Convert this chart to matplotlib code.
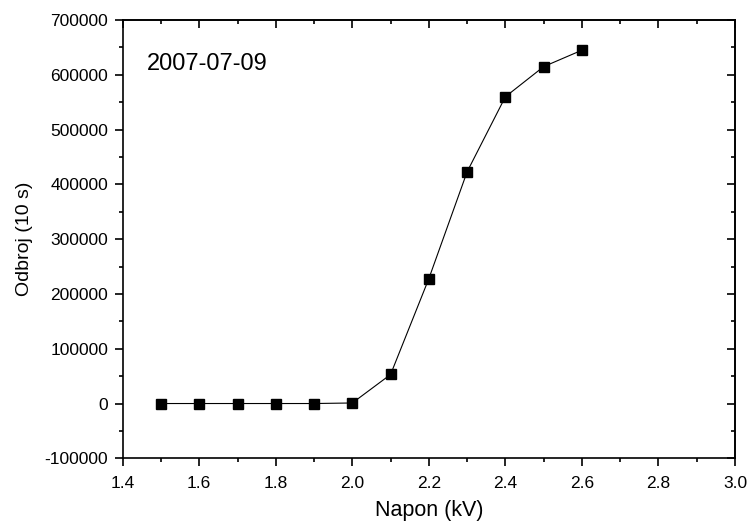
import numpy as np
import matplotlib
matplotlib.use("Agg")
import matplotlib.pyplot as plt
from matplotlib.ticker import MultipleLocator, FormatStrFormatter

plt.rcParams["font.family"] = ["Liberation Sans", "DejaVu Sans"]

# Podaci
napon = [1.5, 1.6, 1.7, 1.8, 1.9, 2.0, 2.1, 2.2, 2.3, 2.4, 2.5, 2.6]
odbroj = [0, 0, 0, 0, 0, 1000, 53000, 228000, 423000, 560000, 615000, 645000]

fig = plt.figure(figsize=(7.5, 5.28), dpi=100)
ax = fig.add_axes([0.1636, 0.132, 0.8164, 0.830])

ax.plot(napon, odbroj, color="black", linewidth=0.8, marker="s",
        markersize=6.5, markerfacecolor="black", markeredgecolor="black")

ax.set_xlim(1.4, 3.0)
ax.set_ylim(-100000, 700000)
ax.xaxis.set_major_locator(MultipleLocator(0.2))
ax.xaxis.set_minor_locator(MultipleLocator(0.1))
ax.yaxis.set_major_locator(MultipleLocator(100000))
ax.yaxis.set_minor_locator(MultipleLocator(50000))
ax.xaxis.set_major_formatter(FormatStrFormatter("%.1f"))
ax.yaxis.set_major_formatter(FormatStrFormatter("%d"))

for s in ax.spines.values():
    s.set_linewidth(1.2)

ax.tick_params(which="both", direction="out", top=False, right=False,
               labelsize=12.5, width=1.2)
ax.tick_params(axis="x", pad=7)
ax.tick_params(axis="y", pad=5)
ax.tick_params(which="major", length=5.5)
ax.tick_params(which="minor", length=3)

# ticks iznutra na gornjoj i desnoj osi
ax_top = ax.secondary_xaxis("top")
ax_top.xaxis.set_major_locator(MultipleLocator(0.2))
ax_top.xaxis.set_minor_locator(MultipleLocator(0.1))
ax_top.tick_params(which="both", direction="in", labeltop=False, width=1.2)
ax_top.tick_params(which="major", length=6)
ax_top.tick_params(which="minor", length=3)
ax_top.spines["top"].set_linewidth(1.2)
ax_right = ax.secondary_yaxis("right")
ax_right.yaxis.set_major_locator(MultipleLocator(100000))
ax_right.yaxis.set_minor_locator(MultipleLocator(50000))
ax_right.tick_params(which="both", direction="in", labelright=False, width=1.2)
ax_right.tick_params(which="major", length=6)
ax_right.tick_params(which="minor", length=3)
ax_right.spines["right"].set_linewidth(1.2)

ax.set_xlabel("Napon (kV)", fontsize=15.5, labelpad=7)
ax.set_ylabel("Odbroj (10 s)", fontsize=14, labelpad=8)

ax.text(0.04, 0.90, "2007-07-09", transform=ax.transAxes, fontsize=17,
        ha="left", va="center")

fig.savefig("out.png", dpi=100)
